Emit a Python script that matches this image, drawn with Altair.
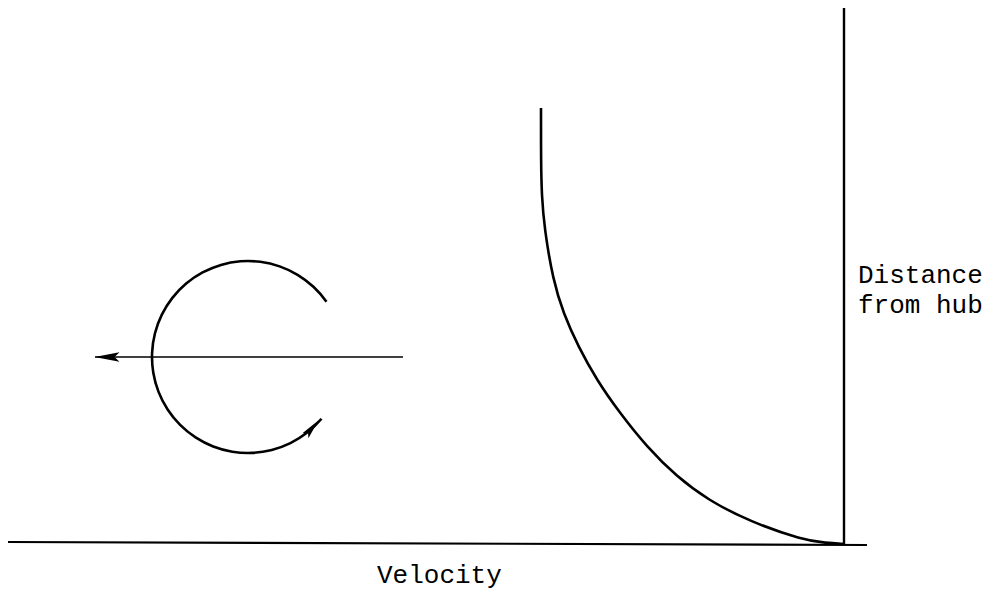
import altair as alt
import pandas as pd

# ---- data (x: velocity offset from the hub line, y: distance from hub) ----
curve_v = [-303, -303, -302.3, -299.7, -291, -280.7, -265.7, -247.3, -224, -197.3, -167.3,
           -136, -94, -41, -18, 0]
curve_d = [436, 382, 349, 316, 264, 230.7, 197.3, 164, 130.7, 97.3, 67.3,
           44, 22.3, 4, 1, 0]

haxis_v = [-837, 23]
haxis_d = [2, -1]
vaxis_v = [0, 0]
vaxis_d = [0, 539]

circle_v = [-596]
circle_d = [187]

flow_v = [-441, -749]
flow_d = [187, 187]

head_v = [-737, -532]
head_d = [187, 116]
head_angle = [270, 40]
head_size = [625, 420]

label_text = ["Distance", "from hub", "Velocity"]
label_v = [14, 14, -467]
label_d = [261, 231, -39]

XDOM = [-836, 139]
YDOM = [-52, 536]

def X(field="v"):
    return alt.X(f"{field}:Q", scale=alt.Scale(domain=XDOM, nice=False, zero=False), axis=None)

def Y(field="d"):
    return alt.Y(f"{field}:Q", scale=alt.Scale(domain=YDOM, nice=False, zero=False), axis=None)

curve_df = pd.DataFrame({"v": curve_v, "d": curve_d, "i": range(len(curve_v))})
haxis_df = pd.DataFrame({"v": haxis_v, "d": haxis_d, "i": [0, 1]})
vaxis_df = pd.DataFrame({"v": vaxis_v, "d": vaxis_d, "i": [0, 1]})
flow_df = pd.DataFrame({"v": flow_v, "d": flow_d, "i": [0, 1]})
circle_df = pd.DataFrame({"v": circle_v, "d": circle_d})
head_df = pd.DataFrame({"v": head_v, "d": head_d, "a": head_angle, "s": head_size})
label_df = pd.DataFrame({"t": label_text, "v": label_v, "d": label_d})

curve = alt.Chart(curve_df).mark_line(color="black", strokeWidth=2.6, interpolate="basis").encode(
    x=X(), y=Y(), order="i:Q")
haxis = alt.Chart(haxis_df).mark_line(color="black", strokeWidth=2.2).encode(x=X(), y=Y(), order="i:Q")
vaxis = alt.Chart(vaxis_df).mark_line(color="black", strokeWidth=2.4).encode(x=X(), y=Y(), order="i:Q")
flow = alt.Chart(flow_df).mark_line(color="black", strokeWidth=1.6).encode(x=X(), y=Y(), order="i:Q")

circle = alt.Chart(circle_df).mark_arc(
    color="black", innerRadius=94.7, outerRadius=97.3, theta=2.27, theta2=7.24
).encode(x=X(), y=Y())

heads = alt.Chart(head_df).mark_point(
    shape="M0,-1L0.38,1L0,0.6L-0.38,1Z", filled=True, color="black", opacity=1, strokeWidth=0
).encode(x=X(), y=Y(), angle=alt.Angle("a:Q", scale=None), size=alt.Size("s:Q", scale=None))

labels = alt.Chart(label_df).mark_text(
    font="Liberation Mono", fontSize=26, align="left", baseline="alphabetic", color="black"
).encode(x=X(), y=Y(), text="t:N")

chart = alt.layer(haxis, vaxis, curve, flow, circle, heads, labels).properties(
    width=975, height=588, padding=0, autosize=alt.AutoSizeParams(type="none"), background="white"
).configure_view(stroke=None)

chart.save("out.html", embed_options={"renderer": "svg", "actions": False})
